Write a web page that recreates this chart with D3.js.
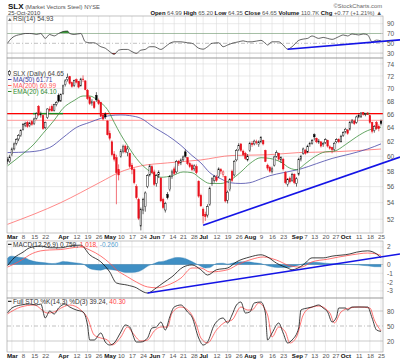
<!DOCTYPE html>
<html>
<head>
<meta charset="utf-8">
<script src="https://cdn.jsdelivr.net/npm/d3@7"></script>
<style>
html,body{margin:0;padding:0;background:#fff;}
svg{display:block;}
text{font-family:"Liberation Sans",Arial,sans-serif;}
</style>
</head>
<body>
<svg id="chart" width="400" height="363"></svg>
<script>
// ================= DATA =================
const holidays = ["2010-04-02","2010-05-31","2010-07-05","2010-09-06"];
const firstDate = "2010-02-25", lastDate = "2010-10-25", baseDate = "2010-03-01";

const opens = [
59.6,59.3,60.2,61.0,61.8,62.4,62.9,63.8,64.4,64.8,
64.3,64.9,64.6,65.4,67.2,65.9,65.8,64.0,65.5,66.8,
67.2,66.6,67.5,68.9,68.0,69.2,70.6,71.4,71.9,70.9,
70.5,71.4,71.1,70.4,71.5,71.2,69.7,68.6,67.6,67.9,
68.9,68.1,67.8,65.9,66.0,65.0,63.2,62.0,60.3,59.8,
58.2,60.0,60.7,61.4,60.5,60.4,58.8,58.2,56.0,54.4,
51.2,53.1,53.5,56.0,57.5,58.6,57.9,56.4,57.5,57.1,
54.4,53.1,55.0,55.6,57.3,58.3,57.9,59.3,59.1,59.5,
60.6,59.8,59.0,58.8,58.3,58.6,56.7,54.9,53.2,52.6,
52.5,53.8,56.4,56.8,57.2,57.3,58.2,57.6,57.3,54.3,
55.6,58.0,57.5,59.5,60.9,61.7,60.7,60.4,59.5,60.8,
61.8,61.7,62.0,61.6,62.0,62.2,60.8,58.8,58.5,58.0,
58.8,60.0,60.4,59.5,59.6,57.8,56.3,57.1,56.8,57.6,
56.4,57.6,59.6,60.4,60.8,60.6,61.6,61.8,63.0,62.5,
61.9,62.0,61.6,61.9,62.2,61.3,61.2,60.9,62.0,62.3,
62.0,62.9,63.5,63.7,63.8,64.8,65.0,64.8,65.6,65.6,
66.3,66.0,66.2,65.8,64.8,63.6,64.8,64.2,64.99];
const highs = [
59.9,60.2,61.2,61.9,62.5,63.1,63.8,64.7,64.9,65.0,
64.9,65.1,65.5,66.3,67.4,66.4,65.9,64.9,66.9,67.2,
67.5,67.6,68.0,69.2,69.2,70.6,71.5,72.4,72.0,71.1,
71.4,71.6,71.2,71.7,72.1,71.3,69.9,68.8,68.3,68.0,
69.4,68.4,67.9,66.2,66.3,65.1,63.6,62.2,60.7,60.2,
58.9,61.0,61.6,61.6,61.4,60.5,59.1,58.4,56.3,54.6,
53.4,54.6,55.4,57.6,58.9,58.8,58.2,57.6,58.1,57.2,
54.6,54.1,55.3,57.5,58.2,58.6,59.5,59.5,59.7,60.1,
60.9,59.9,59.2,59.0,58.9,58.9,56.8,55.1,53.4,52.9,
53.8,56.0,57.2,57.5,57.5,58.5,58.4,58.1,57.4,55.5,
57.1,58.2,59.5,61.0,61.8,61.8,60.9,60.6,60.3,62.0,
62.1,62.3,62.3,62.2,62.8,62.3,60.9,59.0,58.7,58.6,
60.1,60.8,60.5,60.0,59.8,58.0,57.1,57.3,57.8,57.7,
57.2,59.8,60.2,61.2,61.0,61.6,62.0,62.4,63.2,62.6,
62.4,62.1,62.0,62.5,62.3,61.5,61.3,62.0,62.5,62.5,
63.0,63.5,64.0,63.8,65.0,65.3,65.2,65.8,66.1,66.3,
66.3,66.2,66.3,65.9,64.9,64.4,65.0,64.5,65.20];
const lows = [
58.9,59.1,60.0,60.8,61.5,62.1,62.7,63.6,64.1,64.0,
64.1,64.3,64.4,65.2,65.7,65.5,63.7,63.8,65.3,66.3,
66.4,66.4,67.2,67.8,67.9,69.0,70.3,71.1,70.6,70.1,
70.2,70.8,70.0,70.3,71.0,69.7,68.2,67.4,67.3,66.8,
67.9,67.4,65.6,65.1,65.3,62.9,62.2,60.0,59.3,53.8,
56.8,59.8,60.4,60.4,60.0,58.4,57.6,56.3,54.4,51.9,
50.7,52.6,52.9,55.8,57.3,57.6,56.1,56.0,57.1,54.1,
53.2,52.8,54.4,55.4,57.0,57.5,57.7,58.7,58.8,59.3,
59.8,58.8,58.4,58.0,58.0,57.6,54.6,53.5,51.5,51.8,
52.2,53.6,56.1,56.5,56.6,57.1,57.6,57.2,54.0,53.9,
55.4,56.6,57.3,59.3,60.7,60.6,60.0,59.5,59.3,60.6,
61.3,61.5,61.6,61.3,61.8,61.5,59.2,58.1,57.8,57.7,
58.6,59.8,59.4,59.1,58.1,56.3,56.0,56.4,56.6,56.3,
56.0,57.4,59.3,60.2,60.2,60.4,61.3,61.6,62.2,61.8,
61.7,61.2,61.3,61.7,61.2,60.9,60.4,60.7,61.8,61.8,
61.9,62.7,63.2,63.0,63.6,64.6,64.4,64.6,65.4,65.5,
65.8,65.7,65.9,64.6,63.2,63.3,63.7,63.5,64.35];
const closes = [
59.3,59.9,61.0,61.7,62.3,62.9,63.6,64.5,64.6,64.2,
64.7,64.5,65.3,66.1,65.9,66.0,63.9,64.8,66.8,66.6,
66.5,67.5,67.8,68.0,69.0,70.4,71.2,71.8,70.8,70.3,
71.3,71.0,70.2,71.5,71.4,69.8,68.4,67.6,67.9,67.0,
68.2,67.6,65.7,65.3,65.6,63.0,62.5,60.2,59.6,57.8,
57.5,60.7,61.3,60.6,61.0,58.6,58.2,56.5,54.6,52.1,
53.2,54.4,55.2,57.4,58.7,57.8,56.3,57.4,57.8,54.2,
53.4,53.9,54.6,57.3,57.9,57.7,59.3,59.0,59.5,59.9,
60.0,59.0,58.6,58.2,58.7,57.8,54.8,53.6,52.4,52.3,
53.5,55.8,57.0,57.3,56.8,58.3,58.0,57.9,54.2,55.3,
56.9,56.8,59.3,60.8,61.5,60.8,60.2,59.7,60.0,61.8,
61.6,62.1,61.9,62.0,62.6,61.7,59.3,58.4,58.0,58.3,
59.9,60.5,59.6,59.8,58.3,56.5,56.9,56.6,57.6,56.5,
57.0,59.6,60.0,61.0,60.4,61.4,61.8,62.2,62.7,62.0,
62.1,61.4,61.8,62.3,61.4,61.1,60.9,61.8,62.3,62.0,
62.8,63.3,63.8,63.2,64.8,65.0,64.6,65.6,65.8,66.2,
66.0,66.1,66.0,64.8,63.5,64.2,63.9,63.88,64.65];

// indicator samples (day number: 0 = 1 Mar 2010)
const ma50Days = [-2,8,17,23,29,35,40,44,49,53,58,64,70,76,81,85,89,94,98,103,107,112,116,122,130,137,144,152,160,166];
const ma50Vals = [60.5,60.6,61.2,62.6,64.05,64.8,65.4,65.8,65.9,65.8,65.4,64.05,62.9,61.5,60.1,59.1,57.8,57.0,56.5,56.4,56.5,57.0,57.4,57.8,58.3,59.0,59.7,60.3,61.0,61.71];
const ma200Days = [-2,22,40,48,58,70,85,99,115,129,144,166];
const ma200Vals = [51.4,54.0,56.6,57.8,58.7,59.1,59.5,60.1,60.2,60.5,60.6,60.99];
const emaDays = [-2,4,10,14,19,23,28,32,35,39,43,46,49,52,55,59,63,67,72,77,81,85,89,94,98,103,107,112,116,121,125,128,132,136,141,145,150,155,160,166];
const emaVals = [58.7,60.1,61.7,63.2,65.1,66.9,68.1,68.8,68.8,68.0,66.7,64.8,63.0,61.5,60.1,58.7,57.8,57.2,57.4,57.9,57.8,57.0,56.4,56.4,56.8,57.9,59.0,59.8,59.7,59.2,58.4,58.2,59.0,59.9,60.6,60.7,61.6,62.7,63.6,64.10];

const rsiDays = [-2,0,2,4,6,8,10,11,13,15,17,19,21,23,25,26,28,31,33,35,37,40,42,44,46,48,50,52,54,56,58,60,62,64,67,69,71,73,76,79,81,84,86,88,90,93,95,97,99,102,104,106,108,112,114,115,117,120,122,124,126,129,131,133,135,138,140,142,144,147,149,151,153,156,158,160,162,164,166];
const rsiVals = [50,61,66,68,70,70,69,68,70,60,68,65,70,74,75,70,68,70,53,51,51,43,40,33,27.5,36,37.5,37.5,33,29.6,36,37.5,43,43,37.5,43,50,53,53,51,50,40,38,43,50,51,43,46.5,50,53,55,53,53,56,50,46.5,53,53,46.5,38,43,56,58.6,60,65,60,62,60,58,63.5,67,65,69,67,69,67,53,56.5,54.93];

const macdDays = [-2,1,5,8,13,17,22,26,31,35,40,44,47,52,56,59,61,65,68,72,77,81,85,88,92,97,101,107,112,115,119,124,126,131,135,140,144,152,155,160,164,166];
const macdVals = [-0.15,0.75,1.4,1.9,2.1,1.9,1.9,2.1,2.2,1.1,0.3,-0.85,-2.1,-2.35,-2.65,-3.1,-3.25,-2.65,-2.1,-1.4,-0.3,-0.05,-0.6,-1.2,-0.6,-0.4,0.3,0.85,1.1,0.85,0.15,-0.4,-0.6,-0.05,0.75,0.75,0.95,1.2,1.4,1.55,1.2,0.759];
const signalDays = [-2,1,5,8,13,17,22,26,31,35,40,44,47,52,56,61,65,70,76,81,85,89,97,102,108,113,119,125,130,135,142,147,153,160,164,166];
const signalVals = [-0.3,0.05,0.6,1.1,1.55,1.65,1.7,1.85,2.0,1.65,0.95,0.15,-0.6,-1.4,-2.0,-2.55,-2.65,-2.35,-1.55,-0.4,-0.4,-0.85,-0.6,0.05,0.6,0.85,0.5,-0.15,-0.3,0.3,0.6,0.85,1.1,1.3,1.2,1.018];
const histDays = [-2,-1,0,4,6,8,11,15,18,21,23,25,28,32,34,36,40,42,45,48,51,54,57,59,61,64,66,68,71,74,77,80,82,85,87,89,92,95,97,100,103,106,109,112,115,118,121,124,127,130,133,137,139,143,147,152,156,160,163,166];
const histVals = [0.7,0.9,0.95,0.8,0.75,0.5,0.3,0.2,0.1,0.2,0.35,0.3,0.2,0.05,-0.3,-0.55,-0.65,-0.5,-0.6,-0.7,-0.9,-0.9,-0.8,-0.55,-0.2,0.1,0.3,0.35,0.6,0.8,0.75,0.45,0.2,-0.2,-0.4,-0.35,0.1,0.15,0.05,0.2,0.3,0.3,0.2,0.1,-0.15,-0.3,-0.35,-0.35,-0.2,0.0,0.2,0.25,0.2,0.1,0.05,0.0,-0.05,-0.15,-0.25,-0.26];

const kDays = [-2,0,4,8,11,13,15,17,19,21,24,26,29,32,34,35,37,40,42,44,46,49,51,53,56,58,61,63,65,67,69,71,73,76,79,81,84,86,88,91,95,97,99,101,103,105,107,109,112,114,115,117,120,122,124,126,129,130,133,135,138,140,142,144,146,147,150,151,153,157,160,162,164,166];
const kVals = [76,86,92,94,92,94,66,80,74,86,94,88,82,78,52,22,22,36,18,12,16,38,52,48,18,18,26,46,48,58,42,68,88,92,78,68,26,12,18,52,66,56,72,92,98,76,78,96,98,76,22,36,56,36,16,22,46,82,86,88,92,86,78,58,68,86,86,82,88,88,88,66,42,39.24];
const dDays = [-2,4,10,16,19,23,26,31,34,37,40,43,45,49,52,54,58,61,64,67,70,72,76,80,83,85,88,92,96,99,103,106,108,111,115,117,120,123,125,128,131,134,138,143,145,148,152,156,161,163,166];
const dVals = [74,88,92,76,78,88,92,82,66,32,26,22,12,28,48,38,20,22,40,48,48,76,88,78,52,26,16,42,58,62,88,82,82,96,72,28,48,38,16,28,72,86,90,76,56,78,86,88,86,62,40.30];

// annotations
const resistance = 66.1, resistance2 = 65.1;
const greenSegs = [[9.5,23],[158,161]];
const priceTrend = [[86,51.3],[166,59.0]];
const rsiTrend = [[124,37.8],[166,53.7]];
const macdTrend = [[61,-3.24],[166,0.86]];

const tickDates = ["2010-03-01","2010-03-08","2010-03-15","2010-03-22","2010-04-01","2010-04-12","2010-04-19","2010-04-26","2010-05-03","2010-05-10","2010-05-17","2010-05-24","2010-06-01","2010-06-07","2010-06-14","2010-06-21","2010-06-28","2010-07-01","2010-07-12","2010-07-19","2010-07-26","2010-08-02","2010-08-09","2010-08-16","2010-08-23","2010-09-01","2010-09-07","2010-09-13","2010-09-20","2010-09-27","2010-10-01","2010-10-11","2010-10-18","2010-10-25"];
const tickLabels = ["Mar","8","15","22","Apr","12","19","26","May","10","17","24","Jun","7","14","21","28","Jul","12","19","26","Aug","9","16","23","Sep","7","13","20","27","Oct","11","18","25"];
const monthNames = ["Mar","Apr","May","Jun","Jul","Aug","Sep","Oct"];
const priceTicks = [52,54,56,58,60,62,64,66,68,70,72,74];
const rsiTicks = [30,50,70,90];
const macdTicks = [-3,-2,-1,0,2];
const stoTicks = [20,50,80];

// ================= LAYOUT =================
const L = 7, R = 383;
const PANEL = {rsi:[16,58], price:[58,233], macd:[241,298], sto:[298,352]};
const FS = 6.5;
const svg = d3.select("#chart");

// trading calendar
const tradingDates = [];
for (let d = new Date(firstDate+"T00:00:00Z"); d <= new Date(lastDate+"T00:00:00Z"); d.setUTCDate(d.getUTCDate()+1)) {
  const wd = d.getUTCDay(), s = d.toISOString().slice(0,10);
  if (wd > 0 && wd < 6 && !holidays.includes(s)) tradingDates.push(s);
}
const DAY0 = tradingDates.indexOf(baseDate);
const dayOf = s => tradingDates.indexOf(s) - DAY0;
const tickDays = tickDates.map(dayOf);

const x = d3.scaleLinear().domain([-2.2,166.9]).range([L,R]);
const yP = d3.scaleLog().domain([50.4,75.0]).range([PANEL.price[1],PANEL.price[0]]);
const yR = d3.scaleLinear().domain([20,105.7]).range([PANEL.rsi[1],PANEL.rsi[0]]);
const yM = d3.scaleLinear().domain([-3.81,2.67]).range([PANEL.macd[1],PANEL.macd[0]]);
const yS = d3.scaleLinear().domain([-2,106]).range([PANEL.sto[1],PANEL.sto[0]]);

const defs = svg.append("defs");
Object.entries(PANEL).forEach(([k,[t,b]]) => {
  defs.append("clipPath").attr("id","clip-"+k).append("rect").attr("x",L).attr("y",t).attr("width",R-L).attr("height",b-t);
});

// panel backgrounds + vertical grid
Object.entries(PANEL).forEach(([k,[t,b]]) => {
  svg.append("rect").attr("x",L).attr("y",t).attr("width",R-L).attr("height",b-t).attr("fill","#fff");
  svg.append("g").selectAll("line").data(tickDays).join("line")
    .attr("x1",d=>x(d)).attr("x2",d=>x(d)).attr("y1",t).attr("y2",b)
    .attr("stroke","#dcdcdc").attr("stroke-width",0.6);
});

function hgrid(scale, vals, color, dash, w) {
  svg.append("g").selectAll("line").data(vals).join("line")
    .attr("x1",L).attr("x2",R).attr("y1",d=>scale(d)).attr("y2",d=>scale(d))
    .attr("stroke",color).attr("stroke-width",w||0.6).attr("stroke-dasharray",dash||null);
}
hgrid(yP, priceTicks, "#dcdcdc");
hgrid(yR, [90], "#dcdcdc");
hgrid(yR, [70,30], "#a8a8a8");
hgrid(yR, [50], "#999", "4,2,1,2");
hgrid(yM, [2,-1,-2,-3], "#dcdcdc");
hgrid(yM, [0], "#aaa");
hgrid(yS, [80,20], "#a8a8a8");
hgrid(yS, [50], "#999", "4,2,1,2");

function pts(days, vals) { return days.map((d,i)=>[d, vals[i]]); }
function drawLine(days, vals, yScale, color, w, panel, curve) {
  svg.append("path").datum(pts(days,vals))
    .attr("clip-path","url(#clip-"+panel+")")
    .attr("d", d3.line().x(d=>x(d[0])).y(d=>yScale(d[1])).curve(curve||d3.curveMonotoneX))
    .attr("fill","none").attr("stroke",color).attr("stroke-width",w).attr("stroke-linejoin","round");
}

// ---------- RSI ----------
const rsiPts = pts(rsiDays, rsiVals);
defs.append("clipPath").attr("id","clip-rsi-hi").append("rect").attr("x",L).attr("y",PANEL.rsi[0]).attr("width",R-L).attr("height",yR(70)-PANEL.rsi[0]);
defs.append("clipPath").attr("id","clip-rsi-lo").append("rect").attr("x",L).attr("y",yR(30)).attr("width",R-L).attr("height",PANEL.rsi[1]-yR(30));
svg.append("path").datum(rsiPts).attr("clip-path","url(#clip-rsi-hi)")
  .attr("d", d3.area().x(d=>x(d[0])).y0(yR(70)).y1(d=>yR(d[1])).curve(d3.curveMonotoneX))
  .attr("fill","#3a9a3a");
svg.append("path").datum(rsiPts).attr("clip-path","url(#clip-rsi-lo)")
  .attr("d", d3.area().x(d=>x(d[0])).y0(yR(30)).y1(d=>yR(d[1])).curve(d3.curveMonotoneX))
  .attr("fill","#a03c3c");
drawLine(rsiDays, rsiVals, yR, "#222", 0.7, "rsi");

// ---------- PRICE ----------
svg.append("line").attr("x1",L).attr("x2",R).attr("y1",yP(resistance2)).attr("y2",yP(resistance2))
  .attr("stroke","#ff9a9a").attr("stroke-width",1);
svg.append("line").attr("x1",L).attr("x2",R).attr("y1",yP(resistance)).attr("y2",yP(resistance))
  .attr("stroke","#ff0000").attr("stroke-width",1.4);
svg.append("g").selectAll("line").data(greenSegs).join("line")
  .attr("x1",d=>x(d[0])).attr("x2",d=>x(d[1])).attr("y1",yP(resistance)).attr("y2",yP(resistance))
  .attr("stroke","#1a8a1a").attr("stroke-width",1.4);

drawLine(ma200Days, ma200Vals, yP, "#ff6b6b", 0.8, "price");
drawLine(ma50Days, ma50Vals, yP, "#4848a8", 0.8, "price");
drawLine(emaDays, emaVals, yP, "#3d8f3d", 0.8, "price");

// candles
const candleData = closes.map((c,i)=>({day:i-DAY0, o:opens[i], h:highs[i], l:lows[i], c:c, up: i===0 || c >= closes[i-1]}));
const cg = svg.append("g").attr("clip-path","url(#clip-price)");
cg.selectAll("line").data(candleData).join("line")
  .attr("x1",d=>x(d.day)).attr("x2",d=>x(d.day)).attr("y1",d=>yP(d.h)).attr("y2",d=>yP(d.l))
  .attr("stroke",d=>d.up?"#000":"#e8101c").attr("stroke-width",0.6);
cg.selectAll("rect").data(candleData).join("rect")
  .attr("x",d=>x(d.day)-0.8).attr("width",1.6)
  .attr("y",d=>yP(Math.max(d.o,d.c)))
  .attr("height",d=>Math.max(0.6, Math.abs(yP(d.o)-yP(d.c))))
  .attr("fill",d=> d.c < d.o ? (d.up?"#000":"#e8101c") : "#fff")
  .attr("stroke",d=>d.up?"#000":"#e8101c").attr("stroke-width",0.45);

// ---------- MACD ----------
const histPts = pts(histDays, histVals);
svg.append("path").datum(histPts).attr("clip-path","url(#clip-macd)")
  .attr("d", d3.area().x(d=>x(d[0])).y0(yM(0)).y1(d=>yM(d[1])).curve(d3.curveMonotoneX))
  .attr("fill","#3f8fc4").attr("stroke","#2f7fb4").attr("stroke-width",0.4);
drawLine(signalDays, signalVals, yM, "#ff5050", 0.8, "macd");
drawLine(macdDays, macdVals, yM, "#111", 0.8, "macd");

// ---------- STO ----------
drawLine(dDays, dVals, yS, "#ff5050", 0.8, "sto");
drawLine(kDays, kVals, yS, "#111", 0.8, "sto");

// panel borders
Object.entries(PANEL).forEach(([k,[t,b]]) => {
  svg.append("rect").attr("x",L).attr("y",t).attr("width",R-L).attr("height",b-t)
    .attr("fill","none").attr("stroke","#9a9a9a").attr("stroke-width",0.6);
});

// trend lines (extend beyond plot to edge)
function trend(p, yScale) {
  const x0=x(p[0][0]), y0=yScale(p[0][1]), x1=x(p[1][0]), y1=yScale(p[1][1]);
  const s=(y1-y0)/(x1-x0), xe=400;
  svg.append("line").attr("x1",x0).attr("y1",y0).attr("x2",xe).attr("y2",y1+s*(xe-x1))
    .attr("stroke","#1414e6").attr("stroke-width",1.7);
}
trend(priceTrend, yP);
trend(rsiTrend, yR);
trend(macdTrend, yM);

// ---------- AXES ----------
function yAxis(scale, vals, fmt) {
  const g = svg.append("g").attr("transform",`translate(${R},0)`)
    .call(d3.axisRight(scale).tickValues(vals).tickFormat(fmt||d3.format("d")).tickSize(0).tickPadding(4));
  g.select(".domain").remove();
  g.selectAll("text").attr("font-size",FS).attr("fill","#555").attr("font-family","Liberation Sans, Arial, sans-serif");
}
yAxis(yP, priceTicks);
yAxis(yR, rsiTicks);
yAxis(yM, macdTicks, d=>String(d));
yAxis(yS, stoTicks);

function xAxis(yPos) {
  const g = svg.append("g").attr("transform",`translate(0,${yPos})`)
    .call(d3.axisBottom(x).tickValues(tickDays).tickFormat((d,i)=>tickLabels[i]).tickSize(0).tickPadding(2));
  g.select(".domain").remove();
  const texts = g.selectAll("text").attr("font-size",6.2).attr("font-family","Liberation Sans, Arial, sans-serif")
    .attr("font-weight",function(){ return monthNames.includes(this.textContent) ? "bold" : "normal"; })
    .attr("fill",function(){ return monthNames.includes(this.textContent) ? "#111" : "#555"; });
  // nudge colliding labels apart (earlier label moves left)
  const nodes = texts.nodes();
  for (let i = nodes.length - 1; i > 0; i--) {
    const a = nodes[i-1].getBBox(), b = nodes[i].getBBox();
    const ta = d3.select(nodes[i-1].parentNode).attr("transform");
    const tb = d3.select(nodes[i].parentNode).attr("transform");
    const xa = +ta.match(/translate\(([-\d.]+)/)[1], xb = +tb.match(/translate\(([-\d.]+)/)[1];
    const dxa = +(nodes[i-1].getAttribute("dx")||0), dxb = +(nodes[i].getAttribute("dx")||0);
    const overlap = (xa + dxa + a.x + a.width + 0.8) - (xb + dxb + b.x);
    if (overlap > 0) nodes[i-1].setAttribute("dx", dxa - overlap);
  }
}
xAxis(PANEL.price[1]);
xAxis(PANEL.sto[1]);

// ---------- LEGENDS / HEADER ----------
function txt(xp, yp, size, color, str, weight, anchor) {
  return svg.append("text").attr("x",xp).attr("y",yp).attr("font-size",size).attr("fill",color)
    .attr("font-weight",weight||"normal").attr("text-anchor",anchor||"start").text(str);
}
// header
const h1 = txt(8, 8.5, 8, "#111", "SLX", "bold");
h1.append("tspan").attr("font-size",5.8).attr("font-weight","normal").attr("fill","#555").text(" (Market Vectors Steel) NYSE");
txt(8, 15.2, 5.8, "#444", "25-Oct-2010");
txt(382, 8, 5.8, "#666", "©StockCharts.com", "normal", "end");
const hdr = txt(382, 15.2, 5.9, "#555", "", "normal", "end");
[["Open"," 64.99 "],["High"," 65.20 "],["Low"," 64.35 "],["Close"," 64.65 "],["Volume"," 110.7K "],["Chg"," +0.77 (+1.21%) ▲"]]
  .forEach(([a,b]) => { hdr.append("tspan").attr("font-weight","bold").attr("fill","#111").text(a); hdr.append("tspan").text(b); });

// RSI legend
svg.append("path").attr("d",`M8,21 L9.8,18 L11.6,21 Z`).attr("fill","#666");
txt(13, 21, FS, "#444", "RSI(14) 54.93");

// price legend
svg.append("line").attr("x1",9.5).attr("x2",9.5).attr("y1",70).attr("y2",76).attr("stroke","#000").attr("stroke-width",0.6);
svg.append("rect").attr("x",8.5).attr("y",71.5).attr("width",2).attr("height",3).attr("fill","#fff").attr("stroke","#000").attr("stroke-width",0.5);
txt(13, 75.5, FS, "#444", "SLX (Daily) 64.65");
[["MA(50) 61.71","#3c3ca0",81.5],["MA(200) 60.99","#ff5a5a",87.5],["EMA(20) 64.10","#2f8a2f",93.5]].forEach(([s,c,yy])=>{
  svg.append("line").attr("x1",8).attr("x2",11.5).attr("y1",yy-2).attr("y2",yy-2).attr("stroke",c).attr("stroke-width",1);
  txt(13, yy, FS, c, s);
});

// MACD legend
svg.append("line").attr("x1",8).attr("x2",11.5).attr("y1",244.3).attr("y2",244.3).attr("stroke","#000").attr("stroke-width",1);
const ml = txt(13, 246.5, FS, "#333", "MACD(12,26,9) 0.759, ");
ml.append("tspan").attr("fill","#ff4040").text("1.018, ");
ml.append("tspan").attr("fill","#5aa0d0").text("-0.260");

// STO legend
svg.append("line").attr("x1",8).attr("x2",11.5).attr("y1",301.3).attr("y2",301.3).attr("stroke","#000").attr("stroke-width",1);
const sl = txt(13, 303.5, FS, "#333", "Full STO %K(14,3) %D(3) 39.24, ");
sl.append("tspan").attr("fill","#ff4040").text("40.30");
</script>
</body>
</html>
